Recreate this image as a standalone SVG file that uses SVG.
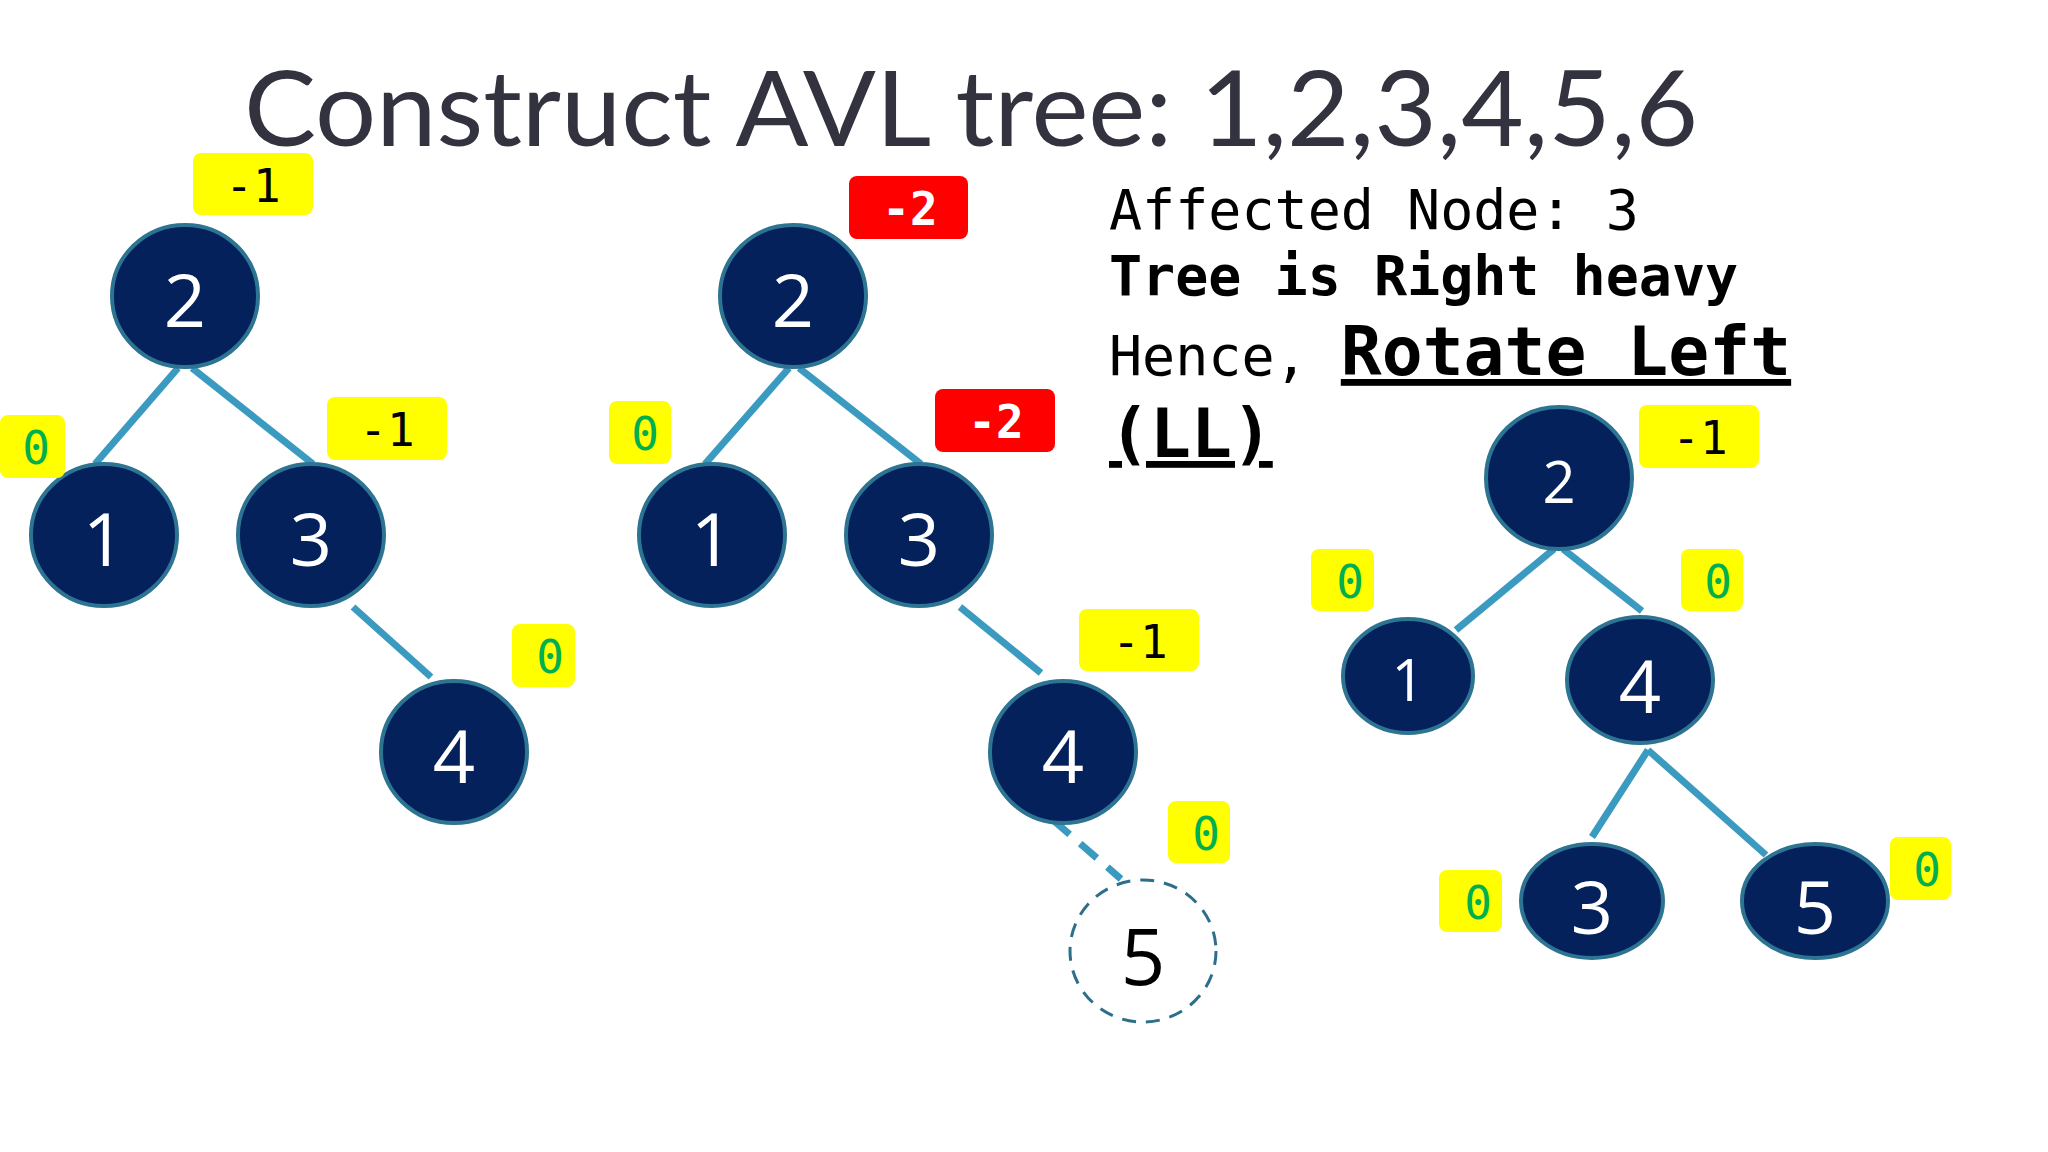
<svg xmlns="http://www.w3.org/2000/svg" width="2048" height="1152" viewBox="0 0 2048 1152">
<style>
.n{fill:#04215c;stroke:#2d7392;stroke-width:4}
.nt{fill:#fff;font-family:"Open Sans","Noto Sans",sans-serif;text-anchor:middle;dominant-baseline:central}
.e{stroke:#3a9ac0;stroke-width:7;fill:none}
.y{fill:#ffff00}
.r{fill:#ff0000}
.b{font-family:"DejaVu Sans Mono",monospace;font-size:46px;text-anchor:middle;dominant-baseline:central}
.g{fill:#00b050}
.k{fill:#000}
.w{fill:#fff;font-weight:bold}
.m{font-family:"DejaVu Sans Mono","Liberation Mono",monospace;font-size:55px;fill:#000}
</style>
<rect width="2048" height="1152" fill="#fff"/>
<text x="244" y="146" font-family="Lato,'Liberation Sans',sans-serif" font-size="104" fill="#33333f" textLength="1454" lengthAdjust="spacingAndGlyphs">Construct AVL tree: 1,2,3,4,5,6</text>
<g id="connectors">
<line class="e" x1="178" y1="368" x2="95" y2="464"/>
<line class="e" x1="192" y1="368" x2="313" y2="464"/>
<line class="e" x1="353" y1="607" x2="431" y2="677"/>
<line class="e" x1="789" y1="368" x2="705" y2="464"/>
<line class="e" x1="799" y1="368" x2="921" y2="464"/>
<line class="e" x1="960" y1="607" x2="1041" y2="673"/>
<line class="e" x1="1053" y1="820" x2="1121" y2="879" stroke-dasharray="22,14"/>
<line class="e" x1="1554" y1="549" x2="1456" y2="630"/>
<line class="e" x1="1563" y1="549" x2="1642" y2="611"/>
<line class="e" x1="1648" y1="750" x2="1592" y2="837"/>
<line class="e" x1="1648" y1="750" x2="1766" y2="855"/>
</g>
<g id="t1n2"><ellipse class="n" cx="185" cy="296" rx="73" ry="71"/><text class="nt" x="185" y="298" font-size="74">2</text></g>
<g id="t1n1"><ellipse class="n" cx="104" cy="535" rx="73" ry="71"/><text class="nt" x="104" y="537" font-size="74">1</text></g>
<g id="t1n3"><ellipse class="n" cx="311" cy="535" rx="73" ry="71"/><text class="nt" x="311" y="537" font-size="74">3</text></g>
<g id="t1n4"><ellipse class="n" cx="454" cy="752" rx="73" ry="71"/><text class="nt" x="454" y="754" font-size="74">4</text></g>
<g id="t2n2"><ellipse class="n" cx="793" cy="296" rx="73" ry="71"/><text class="nt" x="793" y="298" font-size="74">2</text></g>
<g id="t2n1"><ellipse class="n" cx="712" cy="535" rx="73" ry="71"/><text class="nt" x="712" y="537" font-size="74">1</text></g>
<g id="t2n3"><ellipse class="n" cx="919" cy="535" rx="73" ry="71"/><text class="nt" x="919" y="537" font-size="74">3</text></g>
<g id="t2n4"><ellipse class="n" cx="1063" cy="752" rx="73" ry="71"/><text class="nt" x="1063" y="754" font-size="74">4</text></g>
<g id="t2n5"><ellipse cx="1143" cy="951" rx="73" ry="71" fill="#fff" stroke="#2d6e8a" stroke-width="3" stroke-dasharray="14,10"/><text class="nt" x="1143" y="955" font-size="78" style="fill:#000">5</text></g>
<g id="t3n2"><ellipse class="n" cx="1559" cy="478" rx="73" ry="71"/><text class="nt" x="1559" y="480" font-size="58">2</text></g>
<g id="t3n1"><ellipse class="n" cx="1408" cy="676" rx="65" ry="57"/><text class="nt" x="1408" y="678" font-size="58">1</text></g>
<g id="t3n4"><ellipse class="n" cx="1640" cy="680" rx="73" ry="63"/><text class="nt" x="1640" y="684" font-size="74">4</text></g>
<g id="t3n3"><ellipse class="n" cx="1592" cy="901" rx="71" ry="57"/><text class="nt" x="1592" y="905" font-size="74">3</text></g>
<g id="t3n5"><ellipse class="n" cx="1815" cy="901" rx="73" ry="57"/><text class="nt" x="1815" y="905" font-size="74">5</text></g>
<g id="labels">
<rect class="y" x="193" y="153" width="120" height="62" rx="8"/><text class="b k" x="253" y="186">-1</text>
<rect class="y" x="0" y="415" width="65" height="63" rx="8"/><text class="b g" x="36" y="448">0</text>
<rect class="y" x="327" y="397" width="120" height="63" rx="8"/><text class="b k" x="387" y="430">-1</text>
<rect class="y" x="512" y="624" width="63" height="63" rx="8"/><text class="b g" x="550" y="657">0</text>
<rect class="r" x="849" y="176" width="119" height="63" rx="8"/><text class="b w" x="910" y="209">-2</text>
<rect class="y" x="609" y="401" width="62" height="63" rx="8"/><text class="b g" x="645" y="434">0</text>
<rect class="r" x="935" y="389" width="120" height="63" rx="8"/><text class="b w" x="996" y="422">-2</text>
<rect class="y" x="1079" y="609" width="120" height="62" rx="8"/><text class="b k" x="1140" y="642">-1</text>
<rect class="y" x="1168" y="801" width="62" height="62" rx="8"/><text class="b g" x="1206" y="834">0</text>
<rect class="y" x="1639" y="405" width="120" height="63" rx="8"/><text class="b k" x="1700" y="438">-1</text>
<rect class="y" x="1311" y="549" width="63" height="62" rx="8"/><text class="b g" x="1350" y="582">0</text>
<rect class="y" x="1681" y="549" width="62" height="62" rx="8"/><text class="b g" x="1718" y="582">0</text>
<rect class="y" x="1439" y="870" width="63" height="62" rx="8"/><text class="b g" x="1478" y="903">0</text>
<rect class="y" x="1890" y="837" width="61" height="63" rx="8"/><text class="b g" x="1927" y="870">0</text>
</g>
<g id="explanation">
<text class="m" x="1109" y="229">Affected Node: 3</text>
<text class="m" x="1109" y="295" font-weight="bold">Tree is Right heavy</text>
<text class="m" x="1109" y="375">Hence, <tspan font-weight="bold" font-size="68" text-decoration="underline">Rotate Left</tspan></text>
<text class="m" x="1109" y="457" font-weight="bold" style="font-size:68px" text-decoration="underline">(LL)</text>
</g>
</svg>
